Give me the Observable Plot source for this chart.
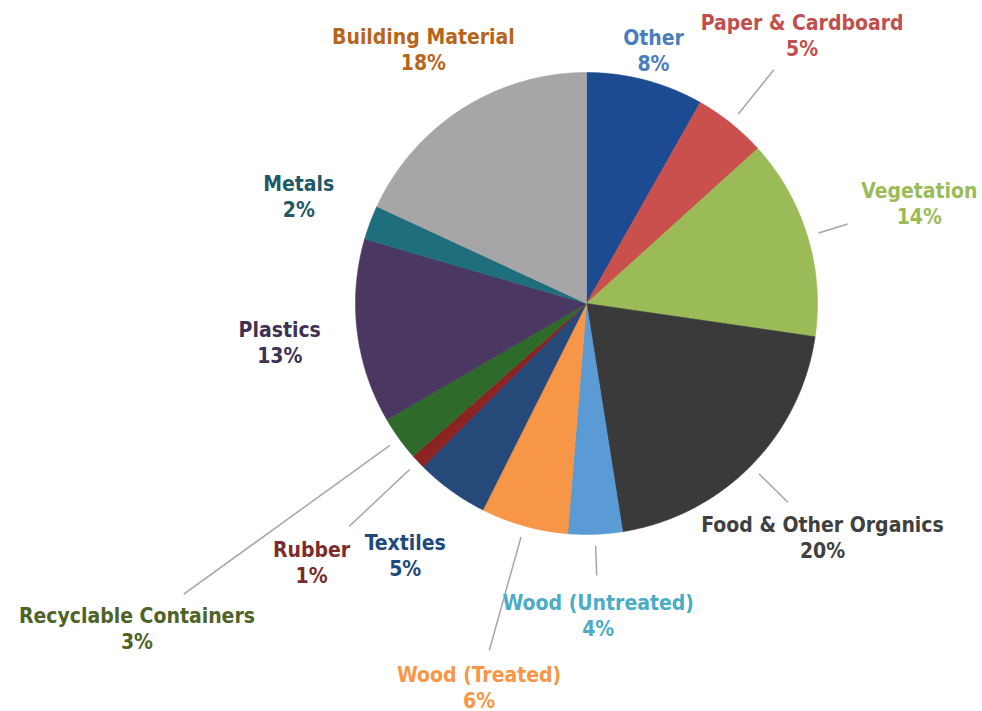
<!DOCTYPE html>
<html>
<head>
<meta charset="utf-8">
<script src="https://cdn.jsdelivr.net/npm/d3@7"></script>
<script src="https://cdn.jsdelivr.net/npm/@observablehq/plot@0.6"></script>
<style>
  html, body { margin: 0; padding: 0; background: #ffffff; }
  #chart { width: 982px; height: 711px; }
</style>
</head>
<body>
<div id="chart"></div>
<script>
// ---- data (clockwise from 12 o'clock) ----
const categories = [
  "Other", "Paper & Cardboard", "Vegetation", "Food & Other Organics",
  "Wood (Untreated)", "Wood (Treated)", "Textiles", "Rubber",
  "Recyclable Containers", "Plastics", "Metals", "Building Material"
];
const shares = [8.2, 5.1, 14.0, 20.2, 3.8, 6.1, 5.1, 1.0, 3.1, 12.9, 2.4, 18.1];

// ---- styles ----
const sliceColors = [
  "#1D4B91", "#C9504D", "#9BBB59", "#3A3A3A",
  "#5B9BD5", "#F79646", "#254A7A", "#8B2323",
  "#2E6B2A", "#4B3862", "#1F6E7E", "#A6A6A6"
];
const labelColors = [
  "#4A7EBB", "#C0504D", "#9BBB59", "#404040",
  "#4BACC6", "#F79646", "#1F497D", "#7B2C2C",
  "#4F6228", "#403152", "#215967", "#B8651B"
];
// label distance from centre (in pie radii) along each slice's mid-angle
const labelRadius = [1.138, 1.493, 1.506, 1.436, 1.347, 1.722, 1.341, 1.633, 2.400, 1.338, 1.330, 1.311];
// leader line outer end (in pie radii); null = no leader
const leaderEnd = [null, 1.297, 1.182, 1.225, 1.178, 1.559, null, 1.409, 2.150, null, null, null];

// ---- layout ----
const W = 982, H = 711;
const CX = 586, CY = 303, R = 231;   // pie centre and radius in pixels

const rows = categories.map((name, i) => ({
  name, share: shares[i], fill: sliceColors[i], labelColor: labelColors[i],
  labelR: labelRadius[i], leaderR: leaderEnd[i]
}));
const arcs = d3.pie().sort(null).value(d => d.share)(rows);

// polygon points for each slice (unit radius, y up)
const slicePts = [];
arcs.forEach(a => {
  const n = Math.max(2, Math.ceil((a.endAngle - a.startAngle) / (Math.PI / 720)));
  slicePts.push({name: a.data.name, fill: a.data.fill, x: 0, y: 0});
  for (let k = 0; k <= n; k++) {
    const t = a.startAngle + (a.endAngle - a.startAngle) * k / n;
    slicePts.push({name: a.data.name, fill: a.data.fill, x: Math.sin(t), y: Math.cos(t)});
  }
  slicePts.push({name: a.data.name, fill: a.data.fill, x: 0, y: 0});
});

const fmt = v => d3.format(".0f")(v) + "%";
const labels = arcs.map(a => {
  const m = (a.startAngle + a.endAngle) / 2;
  return {
    text: a.data.name + "\n" + fmt(a.data.share),
    color: a.data.labelColor,
    x: a.data.labelR * Math.sin(m),
    y: a.data.labelR * Math.cos(m)
  };
});
const leaders = arcs.filter(a => a.data.leaderR != null).map(a => {
  const m = (a.startAngle + a.endAngle) / 2;
  const r1 = 1.05, r2 = a.data.leaderR;
  return {x1: r1 * Math.sin(m), y1: r1 * Math.cos(m), x2: r2 * Math.sin(m), y2: r2 * Math.cos(m)};
});

const chart = Plot.plot({
  width: W, height: H,
  margin: 0,
  style: {background: "#ffffff", fontFamily: "'DejaVu Sans Condensed', 'DejaVu Sans', sans-serif", overflow: "visible"},
  x: {domain: [-CX / R, (W - CX) / R], axis: null},
  y: {domain: [-(H - CY) / R, CY / R], axis: null},
  color: {type: "identity"},
  marks: [
    Plot.line(slicePts, {x: "x", y: "y", z: "name", fill: "fill", stroke: "fill", strokeWidth: 0.6, curve: "linear"}),
    Plot.link(leaders, {x1: "x1", y1: "y1", x2: "x2", y2: "y2", stroke: "#A6A6A6", strokeWidth: 1.5}),
    Plot.text(labels, {
      x: "x", y: "y", text: "text", fill: "color",
      fontSize: 21, fontWeight: "bold", lineHeight: 1.24,
      textAnchor: "middle"
    })
  ]
});
chart.querySelectorAll("text").forEach(t => t.style.fontStretch = "condensed");
document.getElementById("chart").appendChild(chart);
</script>
</body>
</html>
